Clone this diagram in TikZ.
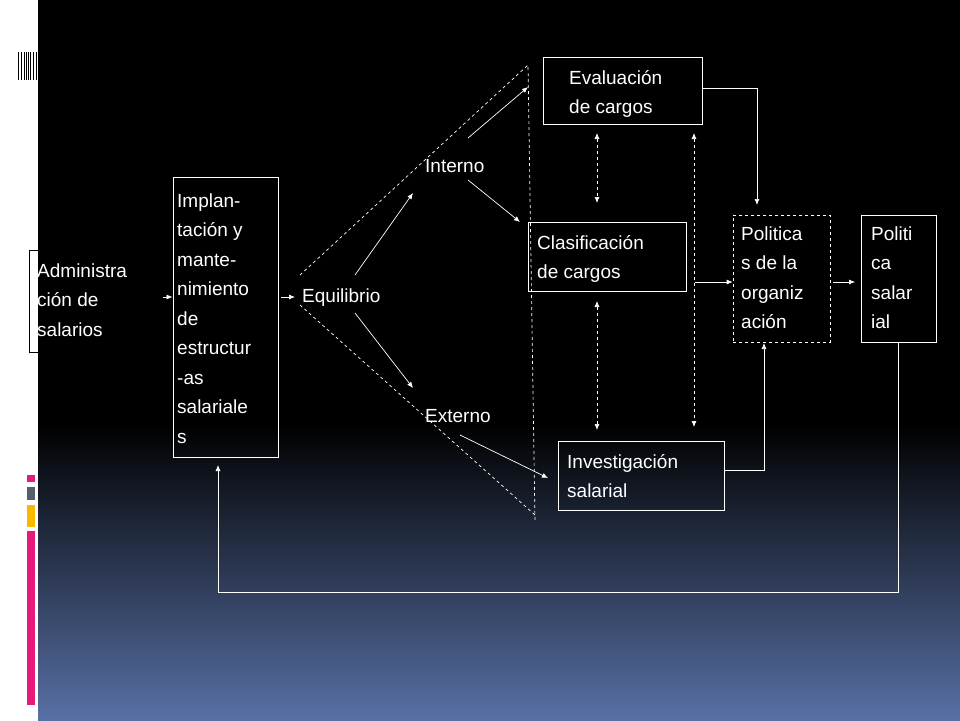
\documentclass[tikz,border=0pt]{standalone}
\usepackage{fontspec}
\setmainfont{Liberation Sans}
\usetikzlibrary{arrows.meta}
\definecolor{pinkb}{RGB}{230,25,125}
\definecolor{greyb}{RGB}{85,95,110}
\definecolor{yellb}{RGB}{250,185,0}
\definecolor{bluebot}{RGB}{88,112,165}
\newcommand{\topr}{\rule{0pt}{18pt}}
\begin{document}
\begin{tikzpicture}[x=1pt,y=-1pt,
  box/.style={draw=white,line width=0.8pt,minimum width=#1,inner sep=0pt},
  lbl/.style={text=white,font=\fontsize{19}{29.5}\selectfont,align=left,anchor=north west,inner sep=0pt},
  arr/.style={draw=white,line width=0.7pt,-{Latex[length=6pt,width=5pt]}},
  darr/.style={draw=white,line width=0.7pt,dashed,{Latex[length=6pt,width=5pt]}-{Latex[length=6pt,width=5pt]}},
  dln/.style={draw=white,line width=0.7pt,dashed}]
\useasboundingbox (0,0) rectangle (960,720);
% background
\fill[white] (0,0) rectangle (38,720);
\fill[black] (38,0) rectangle (960,425);
\shade[top color=black,bottom color=bluebot] (38,424) rectangle (960,720);
% left decorations
\foreach \xx in {18,21,24,26,28,30,33,36} \draw[black,line width=0.8pt] (\xx,52) -- (\xx,80);
\fill[pinkb] (27,475) rectangle (35,482);
\fill[greyb] (27,487) rectangle (35,500);
\fill[yellb] (27,505) rectangle (35,527);
\fill[pinkb] (27,531) rectangle (35,705);
% boxes
\node[draw=black,line width=0.8pt,minimum width=131pt,minimum height=102pt,inner sep=0pt] (adm) at (94.5,301) {};
\node[box=105pt,minimum height=280pt] (imp) at (225.5,317) {};
\node[box=159pt,minimum height=67pt] (eva) at (622.5,90.5) {};
\node[box=158pt,minimum height=69pt] (cla) at (607,256.5) {};
\node[box=166pt,minimum height=69pt] (inv) at (641,475.5) {};
\node[draw=white,dashed,line width=0.7pt,minimum width=97pt,minimum height=127pt,inner sep=0pt] (porg) at (781.5,278.5) {};
\node[box=75pt,minimum height=127pt] (psal) at (898.5,278.5) {};
% texts (first baseline = y + 18)
\node[lbl] (tadm) at (37,259) {\topr Administra\\ción de\\salarios};
\node[lbl] (timp) at (177,189) {\topr Implan-\\tación y\\mante-\\nimiento\\de\\estructur\\-as\\salariale\\s};
\node[lbl] (equ) at (302,284) {\topr Equilibrio};
\node[lbl] (int) at (425,154) {\topr Interno};
\node[lbl] (ext) at (425,404) {\topr Externo};
\node[lbl] (teva) at (569,66) {\topr Evaluación\\de cargos};
\node[lbl] (tcla) at (537,231) {\topr Clasificación\\de cargos};
\node[lbl] (tinv) at (567,450) {\topr Investigación\\salarial};
\node[lbl] (tporg) at (741,222) {\topr Politica\\s de la\\organiz\\ación};
\node[lbl] (tpsal) at (871,222) {\topr Politi\\ca\\salar\\ial};
% dashed guides
\coordinate (dA) at (300,275); \coordinate (dT) at (528,65);
\coordinate (dB) at (300,305); \coordinate (dBot) at (535,522);
\coordinate (dB2) at (535,515);
\draw[dln] (dA) -- (dT) -- (dBot);
\draw[dln] (dB) -- (dB2);
% arrows
\coordinate (a1) at (163,297); \draw[arr] (a1) -- (imp.west |- a1);
\coordinate (a2) at (281,297); \coordinate (a2e) at (295,297); \draw[arr] (a2) -- (a2e);
\coordinate (e1) at (355,275); \coordinate (i1) at (413,193); \draw[arr] (e1) -- (i1);
\coordinate (e2) at (355,313); \coordinate (x1) at (413,388); \draw[arr] (e2) -- (x1);
\coordinate (i2) at (468,138); \coordinate (v1) at (528,87); \draw[arr] (i2) -- (v1);
\coordinate (i3) at (468,180); \coordinate (c1) at (520,222); \draw[arr] (i3) -- (c1);
\coordinate (x2) at (460,435); \coordinate (n1) at (548,478); \draw[arr] (x2) -- (n1);
\coordinate (d1a) at (597,133); \coordinate (d1b) at (597,203); \draw[darr] (d1a) -- (d1b);
\coordinate (d2a) at (597,301); \coordinate (d2b) at (597,430); \draw[darr] (d2a) -- (d2b);
\coordinate (d3a) at (694,133); \coordinate (d3b) at (694,427); \draw[darr] (d3a) -- (d3b);
\coordinate (p1) at (757,205);
\draw[arr] (eva.east |- 0,88) -| (p1);
\coordinate (m1) at (695,282); \draw[arr] (m1) -- (porg.west |- m1);
\coordinate (p2) at (764,343);
\draw[arr] (inv.east |- 0,470) -| (p2);
\coordinate (m2) at (833,282); \coordinate (m2e) at (855,282); \draw[arr] (m2) -- (m2e);
\coordinate (f1) at (898,342); \coordinate (f2) at (218,465);
\draw[arr] (f1) -- (898,592) -- (218,592) -- (f2);
\end{tikzpicture}
\end{document}
